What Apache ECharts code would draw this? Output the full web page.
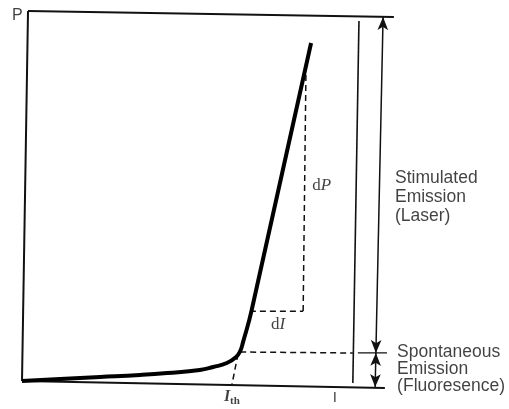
<!DOCTYPE html>
<html><head><meta charset="utf-8">
<script src="https://cdn.jsdelivr.net/npm/echarts@6/dist/echarts.min.js"></script>
<style>html,body{margin:0;padding:0;background:#fff}#c{width:509px;height:409px}</style>
</head><body><div id="c"></div>
<script>
// P-I characteristic (arbitrary units: I current, P optical power)
const curveI = [0, 10.6, 21.7, 32.8, 40.3, 49.4, 53.1, 56.9, 59.4, 60.6, 61.4, 63.8, 80.3];
const curveP = [0, 0.56, 1.1, 1.67, 2.2, 3.06, 3.89, 5.0, 6.6, 8.3, 10.8, 19.7, 93.9];

// construction lines [I, P] end points
const frameLeft = [[1.67, 102.8], [0, 0]];
const frameTop = [[1.67, 102.8], [103.3, 101.1]];
const frameBottom = [[0, 0], [100.8, -1.94]];
const limitLine = [[93.6, 100], [91.9, -0.56]];
const spontLevel = [[60.6, 8.06], [91.9, 7.78]];
const thresholdLine = [[60.0, 7.5], [58.3, -1.1]];
const dPLine = [[78.9, 87.8], [78.1, 19.4]];
const dILine = [[63.3, 19.4], [78.1, 19.4]];
const laserArrow = [[98.3, 7.8], [100.3, 101.1]];
const spontArrow = [[98.3, 7.8], [98.1, -1.67]];
const arrowTick = [[93.3, 7.8], [101.4, 7.8]];

// text labels and their anchor points
const labelTexts = ['P', 'Stimulated\nEmission\n(Laser)', 'Spontaneous\nEmission\n(Fluoresence)', 'I', '{b|I}{s|th}', '{r|d}{i|P}', '{r|d}{i|I}'];
const labelAnchors = [[-2.78, 101.4], [103.6, 51.1], [104.2, 3.33], [86.9, -4.72], [58.3, -4.5], [80.6, 54.4], [71.1, 15.6]];

const chart = echarts.init(document.getElementById('c'), null, {renderer: 'canvas'});
const solid = (data, w) => ({type: 'line', data, symbol: 'none', silent: true, lineStyle: {color: '#111', width: w}, z: 2});
const dashed = (data) => ({type: 'line', data, symbol: 'none', silent: true, lineStyle: {color: '#111', width: 1.5, type: [6, 4]}, z: 2});
const arrow = (seg) => [{coord: seg[0]}, {coord: seg[1]}];

const sans = {fontFamily: 'Liberation Sans', color: '#111'};
const serifRich = {
  b: {fontFamily: 'Liberation Serif', fontStyle: 'italic', fontWeight: 'bold', fontSize: 16, color: '#111'},
  i: {fontFamily: 'Liberation Serif', fontStyle: 'italic', fontSize: 17, color: '#111'},
  s: {fontFamily: 'Liberation Serif', fontWeight: 'bold', fontSize: 11, color: '#111', padding: [8, 0, 0, 0]},
  r: {fontFamily: 'Liberation Serif', fontSize: 17, color: '#111'}
};
const labelStyles = [
  {align: 'left', verticalAlign: 'middle', fontSize: 16, ...sans},
  {align: 'left', verticalAlign: 'middle', fontSize: 17.5, lineHeight: 19, ...sans},
  {align: 'left', verticalAlign: 'middle', fontSize: 17.5, lineHeight: 17, ...sans},
  {align: 'center', verticalAlign: 'middle', fontSize: 15, ...sans},
  {align: 'center', verticalAlign: 'middle', rich: serifRich},
  {align: 'left', verticalAlign: 'middle', rich: serifRich},
  {align: 'center', verticalAlign: 'middle', rich: serifRich}
];

chart.setOption({
  animation: false,
  backgroundColor: '#fff',
  grid: {left: 4, top: 3, width: 504, height: 396},
  xAxis: {type: 'value', min: -5, max: 135, show: false},
  yAxis: {type: 'value', min: -5, max: 105, show: false},
  series: [
    solid(frameLeft, 2), solid(frameTop, 2), solid(frameBottom, 2),
    solid(limitLine, 1.6), solid(arrowTick, 1.4),
    dashed(spontLevel), dashed(thresholdLine), dashed(dPLine), dashed(dILine),
    {type: 'line', data: curveI.map((v, i) => [v, curveP[i]]), symbol: 'none', smooth: 0.5, silent: true,
     lineStyle: {color: '#000', width: 4}, z: 3},
    {type: 'line', data: [], silent: true,
     markLine: {silent: true, symbol: ['arrow', 'arrow'], symbolSize: [8, 13], label: {show: false},
       lineStyle: {color: '#111', width: 1.5, type: 'solid'},
       data: [arrow(laserArrow), arrow(spontArrow)]}},
    {type: 'scatter', symbolSize: 0, clip: false, silent: true,
     data: labelAnchors.map((c, i) => ({value: c, label: {show: true, position: 'inside', formatter: labelTexts[i], ...labelStyles[i]}}))}
  ]
});
</script></body></html>
